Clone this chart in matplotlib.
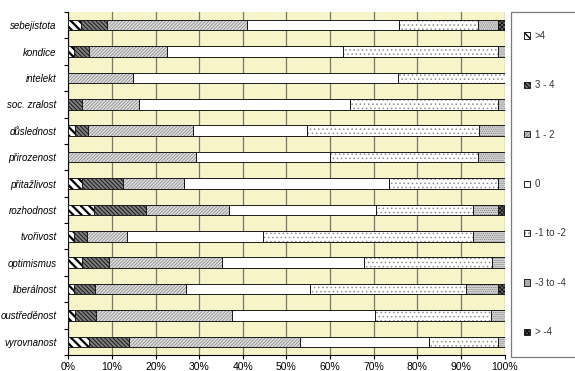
import matplotlib
matplotlib.use("Agg")
import matplotlib.pyplot as plt
from matplotlib.patches import Patch, Rectangle
from matplotlib.legend_handler import HandlerTuple
import numpy as np

plt.rcParams['font.family'] = ['Liberation Sans', 'DejaVu Sans']

categories = ["sebejistota", "kondice", "intelekt", "soc. zralost", "důslednost",
              "přirozenost", "přitažlivost", "rozhodnost", "tvořivost", "optimismus",
              "liberálnost", "oustředěnost", "vyrovnanost"]

series_names = [">4", "3 - 4", "1 - 2", "0", "-1 to -2", "-3 to -4", "> -4"]

gt4     = [2.9, 1.3, 0.0, 0.0, 1.5, 0.0, 3.1, 6.0, 1.3, 3.1, 1.3, 1.5, 4.8]
s3_4    = [6.0, 3.5, 0.0, 3.1, 3.1, 0.0, 9.4, 11.8, 3.1, 6.2, 4.8, 4.9, 9.2]
s1_2    = [32.0, 17.8, 14.8, 13.0, 24.1, 29.2, 14.1, 19.1, 9.0, 26.0, 20.8, 31.1, 39.1]
s0      = [34.9, 40.3, 60.7, 48.5, 26.0, 30.9, 46.9, 33.7, 31.3, 32.4, 28.5, 32.8, 29.6]
m1_2    = [18.2, 35.5, 24.5, 33.8, 39.4, 33.8, 25.0, 22.2, 48.0, 29.5, 35.7, 26.7, 15.7]
m3_4    = [4.4, 1.6, 0.0, 1.6, 5.9, 6.1, 1.5, 5.8, 7.3, 2.8, 7.5, 3.0, 1.6]
ltm4    = [1.6, 0.0, 0.0, 0.0, 0.0, 0.0, 0.0, 1.4, 0.0, 0.0, 1.4, 0.0, 0.0]

series = [gt4, s3_4, s1_2, s0, m1_2, m3_4, ltm4]

xticks = [0, 10, 20, 30, 40, 50, 60, 70, 80, 90, 100]
xticklabels = ["0%", "10%", "20%", "30%", "40%", "50%", "60%", "70%", "80%", "90%", "100%"]

# styles: (facecolor, hatch, hatchcolor, hatch linewidth)
styles = [
    ("white", "\\\\\\\\", "black", 1.6),
    ("#808080", "\\\\\\\\\\\\\\\\", "#151515", 0.7),
    ("#e2e2e2", "//////////", "#8a8a8a", 0.6),
    ("white", None, "white", 0.5),
    ("white", "....", "#909090", 0.6),
    ("#d4d4d4", "........", "#7a7a7a", 0.5),
    ("#6a6a6a", "xxxxxxxx", "#111111", 0.6),
]

W, H = 575, 371
fig = plt.figure(figsize=(W / 100, H / 100), dpi=100)
ax = fig.add_axes([68.3 / W, 1 - 355 / H, (504.5 - 68.3) / W, (355 - 12) / H])
ax.set_facecolor("#F8F4C9")

y = np.arange(len(categories))
vals = np.array(series, dtype=float)
tot = vals.sum(axis=0)
vals = vals / tot * 100
left = np.zeros(len(categories))
bar_h = 0.4
handles = []
for i, name in enumerate(series_names):
    fc, hatch, hc, hlw = styles[i]
    with plt.rc_context({'hatch.linewidth': hlw}):
        ax.barh(y, vals[i], left=left, height=bar_h, color=fc, edgecolor=hc,
                hatch=hatch, linewidth=0, zorder=3)
        hp = Patch(facecolor=fc, edgecolor=hc, hatch=hatch, linewidth=0)
    ax.barh(y, vals[i], left=left, height=bar_h, fill=False,
            edgecolor="#1a1a1a", linewidth=0.7, zorder=4)
    op = Patch(fill=False, edgecolor="#222222", linewidth=0.7)
    handles.append((hp, op))
    left += vals[i]

ax.set_xlim(0, 100)
ax.set_ylim(len(categories) - 0.5, -0.5)
ax.set_xticks(xticks)
ax.set_xticklabels(xticklabels, fontsize=7.5)
ax.set_yticks(y)
ax.set_yticklabels(categories, fontsize=7.0, style="italic")
ax.set_yticks(np.arange(len(categories) + 1) - 0.5, minor=True)
ax.tick_params(axis="y", which="major", length=0, pad=8.5)
ax.tick_params(axis="y", which="minor", length=3, direction="out", width=0.8)
ax.tick_params(axis="x", which="major", length=3, direction="out", width=0.8, pad=2)
ax.xaxis.grid(True, color="#77776a", linewidth=0.9, zorder=1)
ax.set_axisbelow(True)
for s in ["top", "right"]:
    ax.spines[s].set_visible(False)
ax.spines["left"].set_linewidth(0.8)
ax.spines["bottom"].set_linewidth(0.8)

# legend frame
fig.patches.append(Rectangle((510.5 / W, 1 - 357 / H), 80 / W, 345 / H,
                             transform=fig.transFigure, fill=False,
                             edgecolor="#7a7a7a", linewidth=0.9))
leg = fig.legend(handles, series_names, loc="upper left",
                 bbox_to_anchor=(524 / W, 1 - 31 / H), bbox_transform=fig.transFigure,
                 handler_map={tuple: HandlerTuple(ndivide=1)},
                 frameon=False, fontsize=7, handlelength=0.6, handleheight=0.6,
                 handletextpad=0.5, labelspacing=4.05, borderpad=0, borderaxespad=0)
for t in leg.get_texts():
    t.set_color("#333333")

fig.savefig("out.png", dpi=100)
